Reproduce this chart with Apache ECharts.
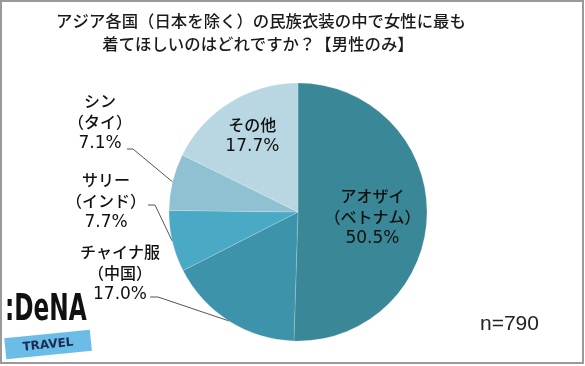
<!DOCTYPE html>
<html><head><meta charset="utf-8">
<script src="https://cdn.jsdelivr.net/npm/echarts@6/dist/echarts.min.js"></script>
<style>html,body{margin:0;padding:0;background:#fff}#c{width:585px;height:366px}</style>
</head><body><div id="c"></div>
<script>
const titleLines = ['アジア各国（日本を除く）の民族衣装の中で女性に最も', '着てほしいのはどれですか？【男性のみ】'];
const categories = ['アオザイ', 'チャイナ服', 'サリー', 'シン', 'その他'];
const countries = ['ベトナム', '中国', 'インド', 'タイ', ''];
const values = [50.5, 17.0, 7.7, 7.1, 17.7];
const sampleNote = 'n=790';

const colors = ['#3a8797', '#3d94aa', '#4aa9c5', '#90c1d3', '#b8d7e2'];
const FONT = '"Noto Sans CJK JP", "Noto Sans", sans-serif';
// label placement (layout only)
const outsideLayout = {
  1: {x: 120, y: 273, ex: 150, ey: 297, bx: 158},
  2: {x: 106, y: 201, ex: 148, ey: 205, bx: 155},
  3: {x: 100, y: 122, ex: 127, ey: 149, bx: 133}
};
const insideOffset = {0: [7, 4], 4: [-10, -19]};

const data = categories.map((c, i) => ({
  name: c,
  value: values[i],
  itemStyle: {color: colors[i]},
  label: outsideLayout[i] ? {position: 'outside'} : {position: 'inside'},
  labelLine: {show: !!outsideLayout[i], lineStyle: {color: '#555', width: 1}}
}));

const chart = echarts.init(document.getElementById('c'));
chart.setOption({
  animation: false,
  backgroundColor: '#fff',
  graphic: [
    {type: 'rect', shape: {x: 1, y: 1, width: 582, height: 362}, style: {fill: 'none', stroke: '#9a9a9a', lineWidth: 2}, z: 10},
    {type: 'text', x: 261, y: 21, style: {text: titleLines[0], font: '500 16.4px ' + FONT, fill: '#1a1a1a', align: 'center', verticalAlign: 'middle'}},
    {type: 'text', x: 258, y: 44, style: {text: titleLines[1], font: '500 16.4px ' + FONT, fill: '#1a1a1a', align: 'center', verticalAlign: 'middle'}},
    {type: 'text', x: 480, y: 314, style: {text: sampleNote, font: '21px "Liberation Sans", Arial, sans-serif', fill: '#222'}},
    {type: 'text', x: 5, y: 292, scaleX: 0.86, scaleY: 1.25, style: {text: ':DeNA', font: 'bold 30px "DejaVu Sans Condensed", sans-serif', fill: '#111'}},
    {type: 'rect', shape: {x: 5, y: 334, width: 86, height: 21}, rotation: 0.1, originX: 48, originY: 344, style: {fill: '#6cbce8'}},
    {type: 'text', x: 48, y: 345, rotation: 0.1, style: {text: 'TRAVEL', font: 'bold 12px "DejaVu Sans", sans-serif', fill: '#1d2b4f', align: 'center', verticalAlign: 'middle'}}
  ],
  series: [{
    type: 'pie',
    center: [298, 212],
    radius: 129,
    startAngle: 90,
    clockwise: true,
    data: data,
    itemStyle: {borderColor: 'rgba(255,255,255,0.35)', borderWidth: 0.5},
    label: {
      show: true,
      formatter: p => p.name + '\n' + (countries[p.dataIndex] ? '（' + countries[p.dataIndex] + '）\n' : '') + '{p|' + p.value.toFixed(1) + '%}',
      fontFamily: FONT,
      fontWeight: 500,
      fontSize: 16,
      lineHeight: 21.5,
      color: '#111',
      align: 'center',
      rich: {p: {fontFamily: '"DejaVu Sans", sans-serif', fontSize: 17, lineHeight: 21.5, color: '#111'}}
    },
    labelLine: {length: 10, length2: 10},
    emphasis: {disabled: true}
  }]
});
chart.setOption({
  series: [{
    labelLayout: function (params) {
      const i = params.dataIndex;
      const o = outsideLayout[i];
      if (o) {
        const p0 = params.labelLinePoints ? params.labelLinePoints[0] : [o.bx, o.ey];
        return {
          x: o.x, y: o.y, align: 'center', verticalAlign: 'middle',
          labelLinePoints: [p0, [o.bx, o.ey], [o.ex, o.ey]]
        };
      }
      const d = insideOffset[i] || [0, 0];
      return {dx: d[0], dy: d[1]};
    }
  }]
});
</script></body></html>
